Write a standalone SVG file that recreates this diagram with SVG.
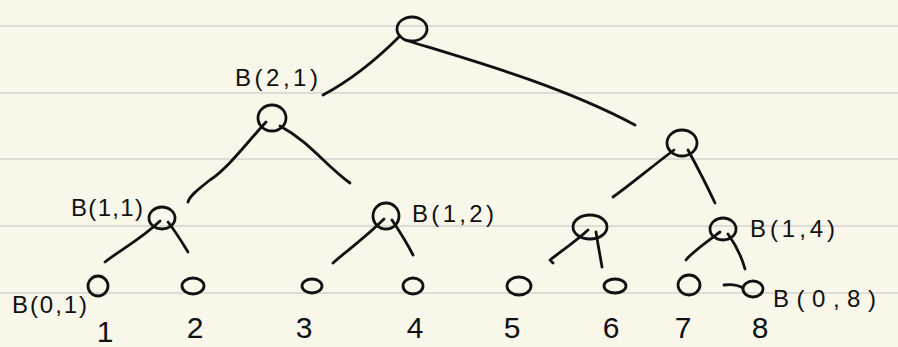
<svg xmlns="http://www.w3.org/2000/svg" width="898" height="347" viewBox="0 0 898 347">
<style>
.rule{stroke:#dddcd6;stroke-width:2}
.n{fill:none;stroke:#111;stroke-width:2.8}
.e{fill:none;stroke:#111;stroke-width:2.8;stroke-linecap:round;stroke-linejoin:round}
.lbl{font-family:"Liberation Sans",Arial,sans-serif;font-size:24px;fill:#111}
.num{font-family:"Liberation Sans",Arial,sans-serif;font-size:30px;fill:#111;text-anchor:middle}
</style>
<rect width="898" height="347" fill="#f8f7ea"/>
<g id="paper">
<line class="rule" x1="0" y1="26" x2="898" y2="26"/>
<line class="rule" x1="0" y1="93" x2="898" y2="93"/>
<line class="rule" x1="0" y1="159" x2="898" y2="159"/>
<line class="rule" x1="0" y1="226" x2="898" y2="226"/>
<line class="rule" x1="0" y1="293" x2="898" y2="293"/>
</g>
<g id="connectors">
<path class="e" d="M400 36 C378 58 355 78 323 95"/>
<path class="e" d="M405 40 C470 60 560 85 635 125"/>
<path class="e" d="M266 122 C245 145 228 168 210 180 C200 188 190 195 188 202"/>
<path class="e" d="M280 126 C310 142 325 165 350 183"/>
<path class="e" d="M674 150 C650 168 630 185 613 197"/>
<path class="e" d="M688 150 C700 172 708 188 715 203"/>
<path class="e" d="M160 221 C140 240 120 250 105 262"/>
<path class="e" d="M168 222 C178 235 183 244 188 252"/>
<path class="e" d="M384 219 C365 238 345 252 333 263"/>
<path class="e" d="M392 220 C402 235 408 245 413 255"/>
<path class="e" d="M588 230 C575 242 560 252 550 260 L553 263"/>
<path class="e" d="M596 232 C598 245 600 255 602 267"/>
<path class="e" d="M720 232 C705 243 692 252 686 260"/>
<path class="e" d="M728 234 C738 248 742 258 745 269"/>
</g>
<g id="root"><ellipse class="n" cx="412" cy="29" rx="15" ry="12"/></g>
<g id="n21"><ellipse class="n" cx="272" cy="118" rx="14" ry="13"/><text class="lbl" x="235" y="86" textLength="83">B(2,1)</text></g>
<g id="n22"><ellipse class="n" cx="682" cy="143" rx="15" ry="13"/></g>
<g id="n11"><ellipse class="n" cx="162" cy="218" rx="13" ry="11"/><text class="lbl" x="71" y="216" textLength="72">B(1,1)</text></g>
<g id="n12"><ellipse class="n" cx="386" cy="216" rx="13" ry="13"/><text class="lbl" x="412" y="222" textLength="82">B(1,2)</text></g>
<g id="n13"><ellipse class="n" cx="590" cy="227" rx="17" ry="12"/></g>
<g id="n14"><ellipse class="n" cx="723" cy="229" rx="13" ry="11"/><text class="lbl" x="750" y="237" textLength="85">B(1,4)</text></g>
<g id="leaf1"><ellipse class="n" cx="98" cy="286" rx="10" ry="10"/><text class="lbl" x="12" y="313" textLength="75">B(0,1)</text><text class="num" x="105" y="342">1</text></g>
<g id="leaf2"><ellipse class="n" cx="193" cy="286" rx="11" ry="8"/><text class="num" x="195" y="338">2</text></g>
<g id="leaf3"><ellipse class="n" cx="312" cy="286" rx="10" ry="7"/><text class="num" x="304" y="338">3</text></g>
<g id="leaf4"><ellipse class="n" cx="413" cy="286" rx="10" ry="8"/><text class="num" x="415" y="338">4</text></g>
<g id="leaf5"><ellipse class="n" cx="519" cy="286" rx="12" ry="9"/><text class="num" x="512" y="338">5</text></g>
<g id="leaf6"><ellipse class="n" cx="615" cy="286" rx="11" ry="7"/><text class="num" x="611" y="338">6</text></g>
<g id="leaf7"><ellipse class="n" cx="689" cy="285" rx="11" ry="10"/><text class="num" x="683" y="338">7</text></g>
<g id="leaf8"><ellipse class="n" cx="753" cy="289" rx="10" ry="8"/><path class="e" d="M724 285 C732 284 738 285 743 288"/><text class="lbl" x="773" y="307" textLength="103">B(0,8)</text><text class="num" x="760" y="338">8</text></g>
</svg>
